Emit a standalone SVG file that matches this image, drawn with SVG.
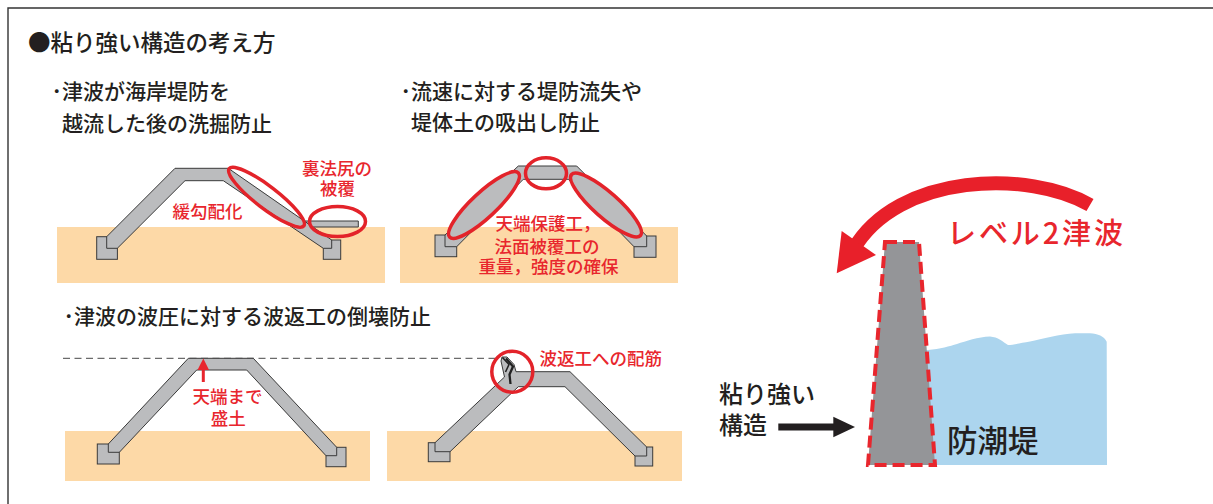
<svg xmlns="http://www.w3.org/2000/svg" width="1213" height="504" viewBox="0 0 1213 504">
  <style>
    text { font-family: "Noto Sans CJK JP", "Noto Sans", sans-serif; font-weight: 500; }
    .dark { fill: #231f20; }
    .red { fill: #e8262d; }
    .h1 { font-size: 22.5px; }
    .h2 { font-size: 21px; }
    .note { font-size: 17.5px; }
    .ground { fill: #fdd9a7; }
    .armor { fill: #bbbcbe; stroke: #3a3a3a; stroke-width: 1; stroke-linejoin: miter; }
    .ring { fill: none; stroke: #e3232a; stroke-width: 3.5; }
    .ring-fill { fill: #bbbcbe; stroke: #e3232a; stroke-width: 3.5; }
  </style>

  <!-- frame -->
  <path d="M8,504 V8 H1213" fill="none" stroke="#333" stroke-width="1.4"/>

  <!-- headings -->
  <g id="headings">
    <text class="dark h1" x="28" y="50.5">●粘り強い構造の考え方</text>
    <text class="dark h2" x="51.5" y="99">･津波が海岸堤防を</text>
    <text class="dark h2" x="62" y="130.5">越流した後の洗掘防止</text>
    <text class="dark h2" x="400.5" y="99">･流速に対する堤防流失や</text>
    <text class="dark h2" x="411" y="130">堤体土の吸出し防止</text>
    <text class="dark h2" x="63.5" y="324">･津波の波圧に対する波返工の倒壊防止</text>
  </g>

  <!-- levee 1: gentle slope and back-toe cover -->
  <g id="levee-gentle-slope">
    <rect class="ground" x="57" y="227" width="328" height="56"/>
    <rect class="armor" x="96.7" y="236.7" width="20.7" height="22.6"/>
    <rect class="armor" x="323.3" y="240" width="17.4" height="19.3"/>
    <polygon class="armor" points="106.7,236.7 175,168.3 228.3,168.3 331.7,240 331.7,248.3 323.3,248.3 223.3,180.7 185,180.7 117.3,248.3 106.7,248.3"/>
    <polygon class="armor" points="304.3,221 358.3,221 358.3,227 313,227"/>
    <ellipse class="ring" cx="266.5" cy="197.3" rx="47" ry="11" transform="rotate(37.5 266.5 197.3)"/>
    <ellipse class="ring" cx="337.5" cy="221.5" rx="28" ry="15"/>
    <text class="red note" x="207.5" y="218" text-anchor="middle">緩勾配化</text>
    <text class="red note" x="337" y="174.5" text-anchor="middle">裏法尻の</text>
    <text class="red note" x="337.5" y="194.5" text-anchor="middle">被覆</text>
  </g>

  <!-- levee 2: crest protection and slope cover weight -->
  <g id="levee-crest-protection">
    <rect class="ground" x="400" y="227" width="278" height="56"/>
    <rect class="armor" x="435" y="235" width="21.7" height="21.7"/>
    <rect class="armor" x="634" y="236" width="22" height="21.3"/>
    <polygon class="armor" points="445,235 518.3,166 576.7,166 646.7,236 646.7,246.7 634,246.7 568.3,179.3 523.3,179.3 456.7,246.7 445,246.7"/>
    <ellipse class="ring-fill" cx="484" cy="205" rx="47" ry="12.5" transform="rotate(-43 484 205)"/>
    <ellipse class="ring-fill" cx="606" cy="205" rx="46" ry="12.5" transform="rotate(41.5 606 205)"/>
    <ellipse class="ring" cx="546" cy="173.3" rx="20.5" ry="15.5"/>
    <text class="red note" x="548" y="229.6" text-anchor="middle">天端保護工，</text>
    <text class="red note" x="547" y="253" text-anchor="middle">法面被覆工の</text>
    <text class="red note" x="548.5" y="273" text-anchor="middle">重量，強度の確保</text>
  </g>

  <!-- design water level -->
  <line id="design-level" x1="63" y1="358.3" x2="497" y2="358.3" stroke="#6b6b6b" stroke-width="1.3" stroke-dasharray="7 4.5"/>

  <!-- levee 3: fill up to the crest -->
  <g id="levee-crest-fill">
    <rect class="ground" x="65" y="431" width="305" height="50"/>
    <rect class="armor" x="97.3" y="444" width="22" height="20"/>
    <rect class="armor" x="326" y="447.3" width="20" height="19.4"/>
    <polygon class="armor" points="108.3,444 188.3,358.3 253.3,358.3 336.7,447.3 336.7,455.7 326,455.7 246.7,370 196.7,370 119.3,452.3 108.3,452.3"/>
    <text class="red note" x="227.5" y="403" text-anchor="middle">天端まで</text>
    <text class="red note" x="228.3" y="424.7" text-anchor="middle">盛土</text>
  </g>

  <!-- levee 4: reinforced wave-return wall -->
  <g id="levee-wave-return">
    <rect class="ground" x="387" y="431" width="295" height="50"/>
    <rect class="armor" x="428.3" y="442.7" width="21.7" height="19"/>
    <rect class="armor" x="635" y="447" width="17.7" height="19"/>
    <polygon class="armor" points="435,442.7 504.5,377 501,361 502,357 507,357 514,364.5 516,371.7 570,371.7 646.7,447 646.7,456 635,456 565,386.7 518.3,386.7 450,451.7 435,451.7"/>
    <!-- reinforcing bars in the wave-return wall -->
    <polyline points="502.5,357.5 509,364.5 505.5,372" fill="none" stroke="#222" stroke-width="1.6" stroke-linejoin="round"/>
    <polyline points="506,358.5 513,366.5 509.5,374.5 510.5,384" fill="none" stroke="#222" stroke-width="2.3" stroke-linejoin="round"/>
    <circle class="ring" cx="512.3" cy="371.7" r="20.5"/>
    <text class="red note" x="539.5" y="364.6">波返工への配筋</text>
  </g>

  <!-- seawall under a level-2 tsunami -->
  <g id="seawall">
    <path d="M915,350 L928,350 C940,349 950,346 957,344 C966,341 978,337 990,336.5 C998,337 1003,342 1008,345 C1013,345 1020,343 1030,341.5 C1042,339 1060,334 1075,333.3 L1090,333.3 C1098,334 1104,336 1106.7,341.7 L1107,465 L915,465 Z" fill="#acd5ee"/>
    <polygon points="885,242 919,242 935,465 868,465" fill="#949598" stroke="#e8262d" stroke-width="4" stroke-dasharray="12 6"/>
    <text class="red" x="947" y="243.5" font-size="29" textLength="176" lengthAdjust="spacing">レベル2津波</text>
    <text class="dark" x="719" y="403" font-size="24">粘り強い</text>
    <text class="dark" x="719" y="434" font-size="24">構造</text>
    <text class="dark" x="947" y="451.5" font-size="30.5">防潮堤</text>
  </g>

  <!-- arrows -->
  <g id="arrows">
    <path d="M1090,205 C1030,170 898,172 853,250" fill="none" stroke="#e8202a" stroke-width="14"/>
    <polygon points="836.7,273.3 841.7,231 876,255" fill="#e8202a"/>
    <line x1="778.3" y1="427" x2="836" y2="427" stroke="#231f20" stroke-width="7"/>
    <polygon points="855,427 833.3,416.7 833.3,437.3" fill="#231f20"/>
    <line x1="203.3" y1="382" x2="203.3" y2="368" stroke="#e8262d" stroke-width="3"/>
    <polygon points="203.3,358.5 197.5,370 209.1,370" fill="#e8262d"/>
  </g>
</svg>
